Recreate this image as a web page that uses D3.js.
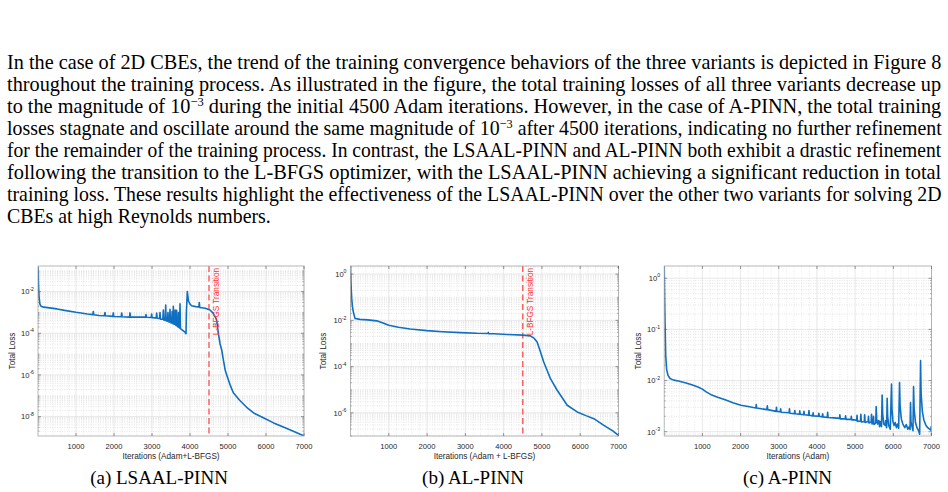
<!DOCTYPE html>
<html>
<head>
<meta charset="utf-8">
<script src="https://cdn.jsdelivr.net/npm/d3@7"></script>
<style>
html,body{margin:0;padding:0;background:#fff;}
svg{display:block;}
</style>
</head>
<body>
<svg id="fig" width="948" height="492"></svg>
<script>
// ---------------- DATA ----------------
const paragraphLines = [
  ["In the case of 2D CBEs, the trend of the training convergence behaviors of the three variants is depicted in Figure 8"],
  ["throughout the training process. As illustrated in the figure, the total training losses of all three variants decrease up"],
  ["to the magnitude of 10", "−3", " during the initial 4500 Adam iterations. However, in the case of A-PINN, the total training"],
  ["losses stagnate and oscillate around the same magnitude of 10", "−3", " after 4500 iterations, indicating no further refinement"],
  ["for the remainder of the training process. In contrast, the LSAAL-PINN and AL-PINN both exhibit a drastic refinement"],
  ["following the transition to the L-BFGS optimizer, with the LSAAL-PINN achieving a significant reduction in total"],
  ["training loss. These results highlight the effectiveness of the LSAAL-PINN over the other two variants for solving 2D"],
  ["CBEs at high Reynolds numbers."]
];

const xTicks = [1000, 2000, 3000, 4000, 5000, 6000, 7000];
const transitionIter = 4500;
const transitionLabel = "L-BFGS Transition";

// (a) LSAAL-PINN
const itersA = [0,10,25,50,80,150,300,500,700,1000,1300,1444,1456,1468,1600,1751,1763,1775,1970,1982,1994,2190,2202,2214,2409,2421,2433,2650,2830,2842,2854,2979,2991,3003,3111,3123,3135,3199,3211,3223,3286,3298,3310,3348,3360,3372,3408,3420,3432,3462,3474,3486,3518,3530,3542,3550,3561,3573,3598,3610,3622,3637,3649,3661,3688,3700,3712,3725,3737,3749,3800,3860,3895,3905,3929,3960,4000,4044,4150,4233,4245,4257,4400,4526,4614,4660,4702,4746,4790,4834,4880,4930,4975,5050,5140,5300,5491,5700,5930,6200,6456,6719,6900,7000];
const lossA  = [1.6e-1,3.2e-2,6.3e-3,2.5e-3,2.0e-3,1.8e-3,1.66e-3,1.48e-3,1.26e-3,1.02e-3,8.5e-4,7.9e-4,1.12e-3,7.8e-4,7.2e-4,6.9e-4,1.0e-3,6.9e-4,6.5e-4,9.5e-4,6.4e-4,6.2e-4,9.3e-4,6.2e-4,6.0e-4,9.5e-4,6.0e-4,6.0e-4,6.0e-4,7.9e-4,5.9e-4,5.75e-4,8.3e-4,5.6e-4,5.5e-4,9.3e-4,5.25e-4,5.1e-4,1.0e-3,4.8e-4,4.7e-4,1.32e-3,4.4e-4,4.2e-4,2.24e-3,4.0e-4,3.8e-4,1.0e-3,3.55e-4,3.5e-4,1.41e-3,3.3e-4,3.16e-4,1.12e-3,3.0e-4,2.9e-4,2.0e-3,2.8e-4,2.7e-4,1.32e-3,2.5e-4,2.4e-4,1.26e-3,2.24e-4,2.0e-4,1.0e-3,1.9e-4,1.8e-4,2.6e-3,1.66e-4,1.41e-4,1.17e-4,9.5e-5,1.0e-3,1.0e-2,3.55e-3,2.5e-3,2.1e-3,1.9e-3,1.82e-3,3.0e-3,1.74e-3,1.58e-3,1.32e-3,9.1e-4,6.3e-4,4.4e-4,1.0e-4,3.16e-5,1.58e-5,5.0e-6,1.58e-6,8.9e-7,3.55e-7,1.41e-7,6.3e-8,2.8e-8,1.41e-8,8.9e-9,5.0e-9,3.16e-9,2.0e-9,1.41e-9,1.2e-9];
const yTicksA = [1e-8, 1e-6, 1e-4, 1e-2];

// (b) AL-PINN
const itersB = [0,10,31,50,73,118,249,450,686,850,1000,1250,1557,1995,2400,2866,3300,3590,3600,3610,3738,4100,4508,4699,4800,4874,4950,5047,5223,5398,5530,5660,5921,6150,6356,6618,6850,7000];
const lossB  = [2.5,0.5,8.9e-2,4.0e-2,2.34e-2,1.2e-2,1.1e-2,1.05e-2,9.5e-3,7.6e-3,6.2e-3,5.0e-3,4.2e-3,3.6e-3,3.24e-3,2.95e-3,2.75e-3,2.69e-3,3.0e-3,2.63e-3,2.63e-3,2.45e-3,2.29e-3,2.14e-3,1.66e-3,1.17e-3,5.0e-4,1.58e-4,3.0e-5,9.5e-6,4.5e-6,2.14e-6,1.1e-6,7.6e-7,5.6e-7,2.9e-7,1.66e-7,1.07e-7];
const yTicksB = [1e-6, 1e-4, 1e-2, 1e0];

// (c) A-PINN
const itersC = [0,8,21,39,65,100,152,250,370,550,722,900,1000,1100,1247,1400,1596,1800,2008,2200,2400,2410,2420,2690,2700,2712,2930,2940,2952,3040,3050,3062,3270,3280,3292,3410,3420,3432,3540,3550,3562,3650,3660,3672,3780,3790,3802,3890,3900,3912,4040,4050,4062,4140,4150,4162,4270,4280,4292,4450,4590,4600,4612,4740,4750,4762,4890,4900,4912,5000,5040,5050,5062,5140,5150,5162,5240,5250,5262,5340,5350,5362,5420,5430,5442,5475,5482,5492,5540,5551,5565,5590,5620,5640,5660,5690,5708,5722,5750,5790,5800,5825,5839,5852,5880,5920,5953,5965,5990,6020,6050,6080,6110,6140,6163,6178,6210,6250,6300,6340,6380,6420,6438,6451,6462,6490,6515,6530,6545,6580,6620,6660,6690,6714,6728,6760,6800,6850,6900,6950,6985,6992,7000];
const lossC  = [2.0,0.63,0.141,0.0316,0.0162,0.0126,0.011,0.0102,0.0098,0.0091,0.0083,0.0074,0.0068,0.006,0.0052,0.0047,0.0042,0.0037,0.0033,0.0031,0.0029,0.0034,0.0029,0.0027,0.0032,0.0027,0.0025,0.003,0.0025,0.00245,0.0028,0.0024,0.00234,0.0028,0.0023,0.00224,0.0026,0.00224,0.00219,0.00257,0.00219,0.00214,0.0025,0.00214,0.00209,0.0026,0.00209,0.00204,0.00234,0.00204,0.002,0.0023,0.002,0.00195,0.00224,0.00195,0.0019,0.0024,0.0019,0.00186,0.00182,0.00214,0.00178,0.00178,0.00204,0.00174,0.00174,0.002,0.0017,0.0017,0.00166,0.0021,0.00158,0.00162,0.00219,0.00155,0.00158,0.00214,0.00151,0.00158,0.002,0.00148,0.00155,0.00219,0.00141,0.00158,0.002,0.00138,0.00148,0.0031,0.00178,0.00141,0.00166,0.00126,0.00158,0.00126,0.0052,0.00224,0.00141,0.00132,0.00166,0.0012,0.0045,0.002,0.00132,0.00112,0.0085,0.0028,0.00158,0.00132,0.00151,0.0012,0.00141,0.00117,0.0091,0.00316,0.00178,0.00141,0.0012,0.00138,0.00112,0.00126,0.0011,0.0037,0.00158,0.00126,0.00105,0.0076,0.0028,0.00151,0.0012,0.00105,0.00089,0.0245,0.0056,0.0025,0.0017,0.00135,0.0012,0.00112,0.00107,0.00126,0.00105];
const yTicksC = [1e-3, 1e-2, 1e-1, 1e0];

// ---------------- DRAW ----------------
const svg = d3.select("#fig");
const sansFont = "'Liberation Sans', Arial, Helvetica, sans-serif";
const serifFont = "'Liberation Serif', 'Times New Roman', serif";

// paragraph: each line scaled horizontally to the justified width
const textLeft = 7, textRight = 942, firstBaseline = 68.5, linePitch = 22, lastLineWidth = 264;
paragraphLines.forEach((parts, i) => {
  const last = i === paragraphLines.length - 1;
  const t = svg.append("text")
    .attr("x", 0).attr("y", 0)
    .attr("font-family", serifFont)
    .attr("font-size", 21)
    .attr("fill", "#000");
  parts.forEach((p, j) => {
    const ts = t.append("tspan").text(p);
    if (j === 1) ts.attr("dy", -7).attr("font-size", 13);
    if (j === 2) ts.attr("dy", 7);
  });
  const natural = t.node().getComputedTextLength();
  const target = last ? lastLineWidth : (textRight - textLeft);
  t.attr("transform", `translate(${textLeft},${firstBaseline + i * linePitch}) scale(${target / natural},1)`);
});

const panels = [
  { id:"a", x0:38, x1:304, logMin:-8.93, logMax:-0.77, yTicks:yTicksA, iters:itersA, loss:lossA,
    xlabel:"Iterations (Adam+L-BFGS)", caption:"(a) LSAAL-PINN", capX:159, ylabX:12, transition:true },
  { id:"b", x0:350.5, x1:618.5, logMin:-7.0, logMax:0.35, yTicks:yTicksB, iters:itersB, loss:lossB,
    xlabel:"Iterations (Adam + L-BFGS)", caption:"(b) AL-PINN", capX:473, ylabX:323, transition:true },
  { id:"c", x0:664.2, x1:931.5, logMin:-3.084, logMax:0.24, yTicks:yTicksC, iters:itersC, loss:lossC,
    xlabel:"Iterations (Adam)", caption:"(c) A-PINN", capX:787.5, ylabX:637.7, transition:false }
];

const plotTop = 266, plotBottom = 436;

panels.forEach(p => {
  const x = d3.scaleLinear().domain([0, 7000]).range([p.x0, p.x1]);
  const y = d3.scaleLog().domain([Math.pow(10, p.logMin), Math.pow(10, p.logMax)]).range([plotBottom, plotTop]);
  const g = svg.append("g");

  g.append("clipPath").attr("id", "clip-" + p.id)
    .append("rect").attr("x", p.x0).attr("y", plotTop).attr("width", p.x1 - p.x0).attr("height", plotBottom - plotTop);

  // minor grid (y)
  const minors = [];
  for (let d = Math.floor(p.logMin); d <= Math.ceil(p.logMax); d++) {
    for (let k = 1; k <= 9; k++) {
      const v = k * Math.pow(10, d);
      if (v >= y.domain()[0] && v <= y.domain()[1] && !p.yTicks.some(t => Math.abs(t - v) / v < 1e-9)) minors.push(v);
    }
  }
  g.selectAll(".ymin").data(minors).enter().append("line")
    .attr("x1", p.x0).attr("x2", p.x1)
    .attr("y1", d => y(d)).attr("y2", d => y(d))
    .attr("stroke", "#bdbdbd").attr("stroke-width", 0.5).attr("stroke-dasharray", "0.8,1.6");
  // minor grid (x)
  const xMinors = d3.range(200, 7000, 200).filter(v => v % 1000 !== 0);
  g.selectAll(".xmin").data(xMinors).enter().append("line")
    .attr("y1", plotTop).attr("y2", plotBottom)
    .attr("x1", d => x(d)).attr("x2", d => x(d))
    .attr("stroke", "#cfcfcf").attr("stroke-width", 0.5).attr("stroke-dasharray", "0.8,1.6");
  // major grid
  g.selectAll(".ymaj").data(p.yTicks).enter().append("line")
    .attr("x1", p.x0).attr("x2", p.x1)
    .attr("y1", d => y(d)).attr("y2", d => y(d))
    .attr("stroke", "#dcdcdc").attr("stroke-width", 0.7);
  g.selectAll(".xmaj").data(xTicks).enter().append("line")
    .attr("y1", plotTop).attr("y2", plotBottom)
    .attr("x1", d => x(d)).attr("x2", d => x(d))
    .attr("stroke", "#dcdcdc").attr("stroke-width", 0.7);

  // transition line
  if (p.transition) {
    g.append("line")
      .attr("x1", x(transitionIter)).attr("x2", x(transitionIter))
      .attr("y1", plotTop).attr("y2", plotBottom)
      .attr("stroke", "#ff4a4a").attr("stroke-width", 1.3).attr("stroke-dasharray", "6,3.5");
  }

  // data line
  const line = d3.line().x((d, i) => x(p.iters[i])).y(d => y(d));
  g.append("path").datum(p.loss)
    .attr("clip-path", "url(#clip-" + p.id + ")")
    .attr("d", line)
    .attr("fill", "none").attr("stroke", "#0f6fc0").attr("stroke-width", 1.6)
    .attr("stroke-linejoin", "round");

  if (p.transition) {
    const tx = x(transitionIter) + 10;
    g.append("text")
      .attr("transform", `translate(${tx},${plotTop + 2}) rotate(-90)`)
      .attr("text-anchor", "end")
      .attr("font-family", sansFont).attr("font-size", 8.2)
      .attr("fill", "#ff3030")
      .text(transitionLabel);
  }

  // box
  g.append("rect").attr("x", p.x0).attr("y", plotTop).attr("width", p.x1 - p.x0).attr("height", plotBottom - plotTop)
    .attr("fill", "none").attr("stroke", "#a6a6a6").attr("stroke-width", 0.8);

  // ticks (inward) left/right
  [p.x0, p.x1].forEach((ax, side) => {
    const dir = side === 0 ? 1 : -1;
    g.selectAll(null).data(p.yTicks).enter().append("line")
      .attr("x1", ax).attr("x2", ax + dir * 3)
      .attr("y1", d => y(d)).attr("y2", d => y(d))
      .attr("stroke", "#555").attr("stroke-width", 0.6);
    g.selectAll(null).data(minors).enter().append("line")
      .attr("x1", ax).attr("x2", ax + dir * 1.6)
      .attr("y1", d => y(d)).attr("y2", d => y(d))
      .attr("stroke", "#777").attr("stroke-width", 0.5);
  });
  [plotBottom, plotTop].forEach((ay, side) => {
    const dir = side === 0 ? -1 : 1;
    g.selectAll(null).data(xTicks).enter().append("line")
      .attr("y1", ay).attr("y2", ay + dir * 3)
      .attr("x1", d => x(d)).attr("x2", d => x(d))
      .attr("stroke", "#555").attr("stroke-width", 0.6);
  });

  // y tick labels 10^n
  p.yTicks.forEach(t => {
    const e = Math.round(Math.log10(t));
    const lab = g.append("text")
      .attr("x", p.x0 - 4).attr("y", y(t) + 2.8)
      .attr("text-anchor", "end")
      .attr("font-family", sansFont).attr("font-size", 7.6).attr("fill", "#262626");
    lab.append("tspan").text("10");
    lab.append("tspan").attr("dy", -3.6).attr("font-size", 5.2).text(String(e));
  });

  // x tick labels
  g.selectAll(null).data(xTicks).enter().append("text")
    .attr("x", d => x(d)).attr("y", 448.5)
    .attr("text-anchor", "middle")
    .attr("font-family", sansFont).attr("font-size", 7.6).attr("fill", "#262626")
    .text(d => d);

  // x title
  g.append("text")
    .attr("x", (p.x0 + p.x1) / 2).attr("y", 458.8)
    .attr("text-anchor", "middle")
    .attr("font-family", sansFont).attr("font-size", 8.2).attr("fill", "#262626")
    .text(p.xlabel);

  // y title
  g.append("text")
    .attr("transform", `translate(${p.ylabX + 3},${(plotTop + plotBottom) / 2}) rotate(-90)`)
    .attr("text-anchor", "middle")
    .attr("font-family", sansFont).attr("font-size", 8.2).attr("fill", "#262626")
    .text("Total Loss");

  // caption
  g.append("text")
    .attr("x", p.capX).attr("y", 483.5)
    .attr("text-anchor", "middle")
    .attr("font-family", serifFont).attr("font-size", 19).attr("fill", "#000")
    .text(p.caption);
});
</script>
</body>
</html>
